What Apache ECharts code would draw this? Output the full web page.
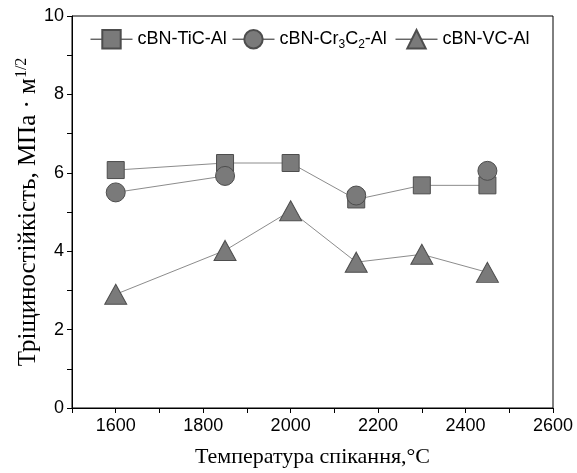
<!DOCTYPE html>
<html><head><meta charset="utf-8">
<script src="https://cdn.jsdelivr.net/npm/echarts@6/dist/echarts.min.js"></script>
<style>html,body{margin:0;padding:0;background:#fff}#c{width:577px;height:473px}</style>
</head><body><div id="c"></div>
<script>
const temps = [1600, 1850, 2000, 2150, 2300, 2450];
const ticAl = [6.07, 6.25, 6.25, 5.32, 5.68, 5.68];
const crAl = [5.5, 5.92, null, 5.42, null, 6.05];
const vcAl = [2.9, 4.02, 5.03, 3.72, 3.92, 3.46];
const names = ['cBN-TiC-Al', 'cBN-Cr3C2-Al', 'cBN-VC-Al'];
const xTicks = [1600, 1800, 2000, 2200, 2400, 2600];
const yTicks = [0, 2, 4, 6, 8, 10];

const pairs = v => temps.map((t, i) => [t, v[i]]);
const markerStyle = {color: '#7a7a7a', borderColor: '#4d4d4d', borderWidth: 1};
const lineStyle = {color: '#8c8c8c', width: 1};
const sans = 'Liberation Sans, Arial, sans-serif';
const serif = 'Liberation Serif, Times New Roman, serif';

function legendAt(left, name) {
  return {
    left: left, top: 24, data: [name], itemWidth: 42, itemHeight: 23, itemGap: 0,
    lineStyle: {color: '#222', width: 1},
    textStyle: {fontFamily: sans, fontSize: 18, color: '#000',
      rich: {n: {fontFamily: sans, fontSize: 18, color: '#000'},
             s: {fontFamily: sans, fontSize: 12, color: '#000', verticalAlign: 'bottom', padding: [10, 0, 0, 0]}}},
    formatter: n => n === 'cBN-Cr3C2-Al' ? '{n|cBN-Cr}{s|3}{n|C}{s|2}{n|-Al}' : n
  };
}

const chart = echarts.init(document.getElementById('c'));
chart.setOption({
  animation: false,
  backgroundColor: '#fff',
  grid: {left: 72, right: 24, top: 16, bottom: 63, show: true, borderColor: '#000', borderWidth: 1, backgroundColor: 'transparent'},
  legend: [legendAt(85, names[0]), legendAt(227, names[1]), legendAt(390, names[2])],
  xAxis: {
    type: 'value', min: 1500, max: 2600, interval: 100,
    name: 'Температура спікання,°С', nameLocation: 'middle', nameGap: 38,
    nameTextStyle: {fontFamily: serif, fontSize: 22, color: '#000'},
    axisLine: {show: true, lineStyle: {color: '#000', width: 1}},
    axisTick: {show: true, inside: false, length: 5, lineStyle: {color: '#000'}, interval: 0},
    axisLabel: {fontFamily: sans, fontSize: 18, color: '#000', margin: 9,
      formatter: v => xTicks.includes(v) ? String(v) : ''},
    splitLine: {show: false}
  },
  yAxis: {
    type: 'value', min: 0, max: 10, interval: 1,
    name: 'Тріщиностійкість, МПа · м{sup|1/2}', nameLocation: 'middle', nameGap: 30,
    nameMoveOverlap: false,
    nameTextStyle: {fontFamily: serif, fontSize: 25, color: '#000',
      rich: {sup: {fontFamily: serif, fontSize: 16, color: '#000', verticalAlign: 'top', padding: [0, 0, 12, 0]}}},
    axisLine: {show: true, lineStyle: {color: '#000', width: 1}},
    axisTick: {show: true, inside: false, length: 5, lineStyle: {color: '#000'}},
    axisLabel: {fontFamily: sans, fontSize: 18, color: '#000', margin: 8,
      formatter: v => yTicks.includes(v) ? String(v) : ''},
    splitLine: {show: false}
  },
  series: [
    {name: names[0], type: 'line', data: pairs(ticAl), symbol: 'rect', symbolSize: 17,
     itemStyle: markerStyle, lineStyle: lineStyle, z: 2},
    {name: names[1], type: 'line', data: pairs(crAl), symbol: 'circle', symbolSize: 19, connectNulls: false,
     itemStyle: markerStyle, lineStyle: lineStyle, z: 3},
    {name: names[2], type: 'line', data: pairs(vcAl), symbol: 'triangle', symbolSize: [22, 20],
     itemStyle: markerStyle, lineStyle: lineStyle, z: 4}
  ]
});
</script></body></html>
